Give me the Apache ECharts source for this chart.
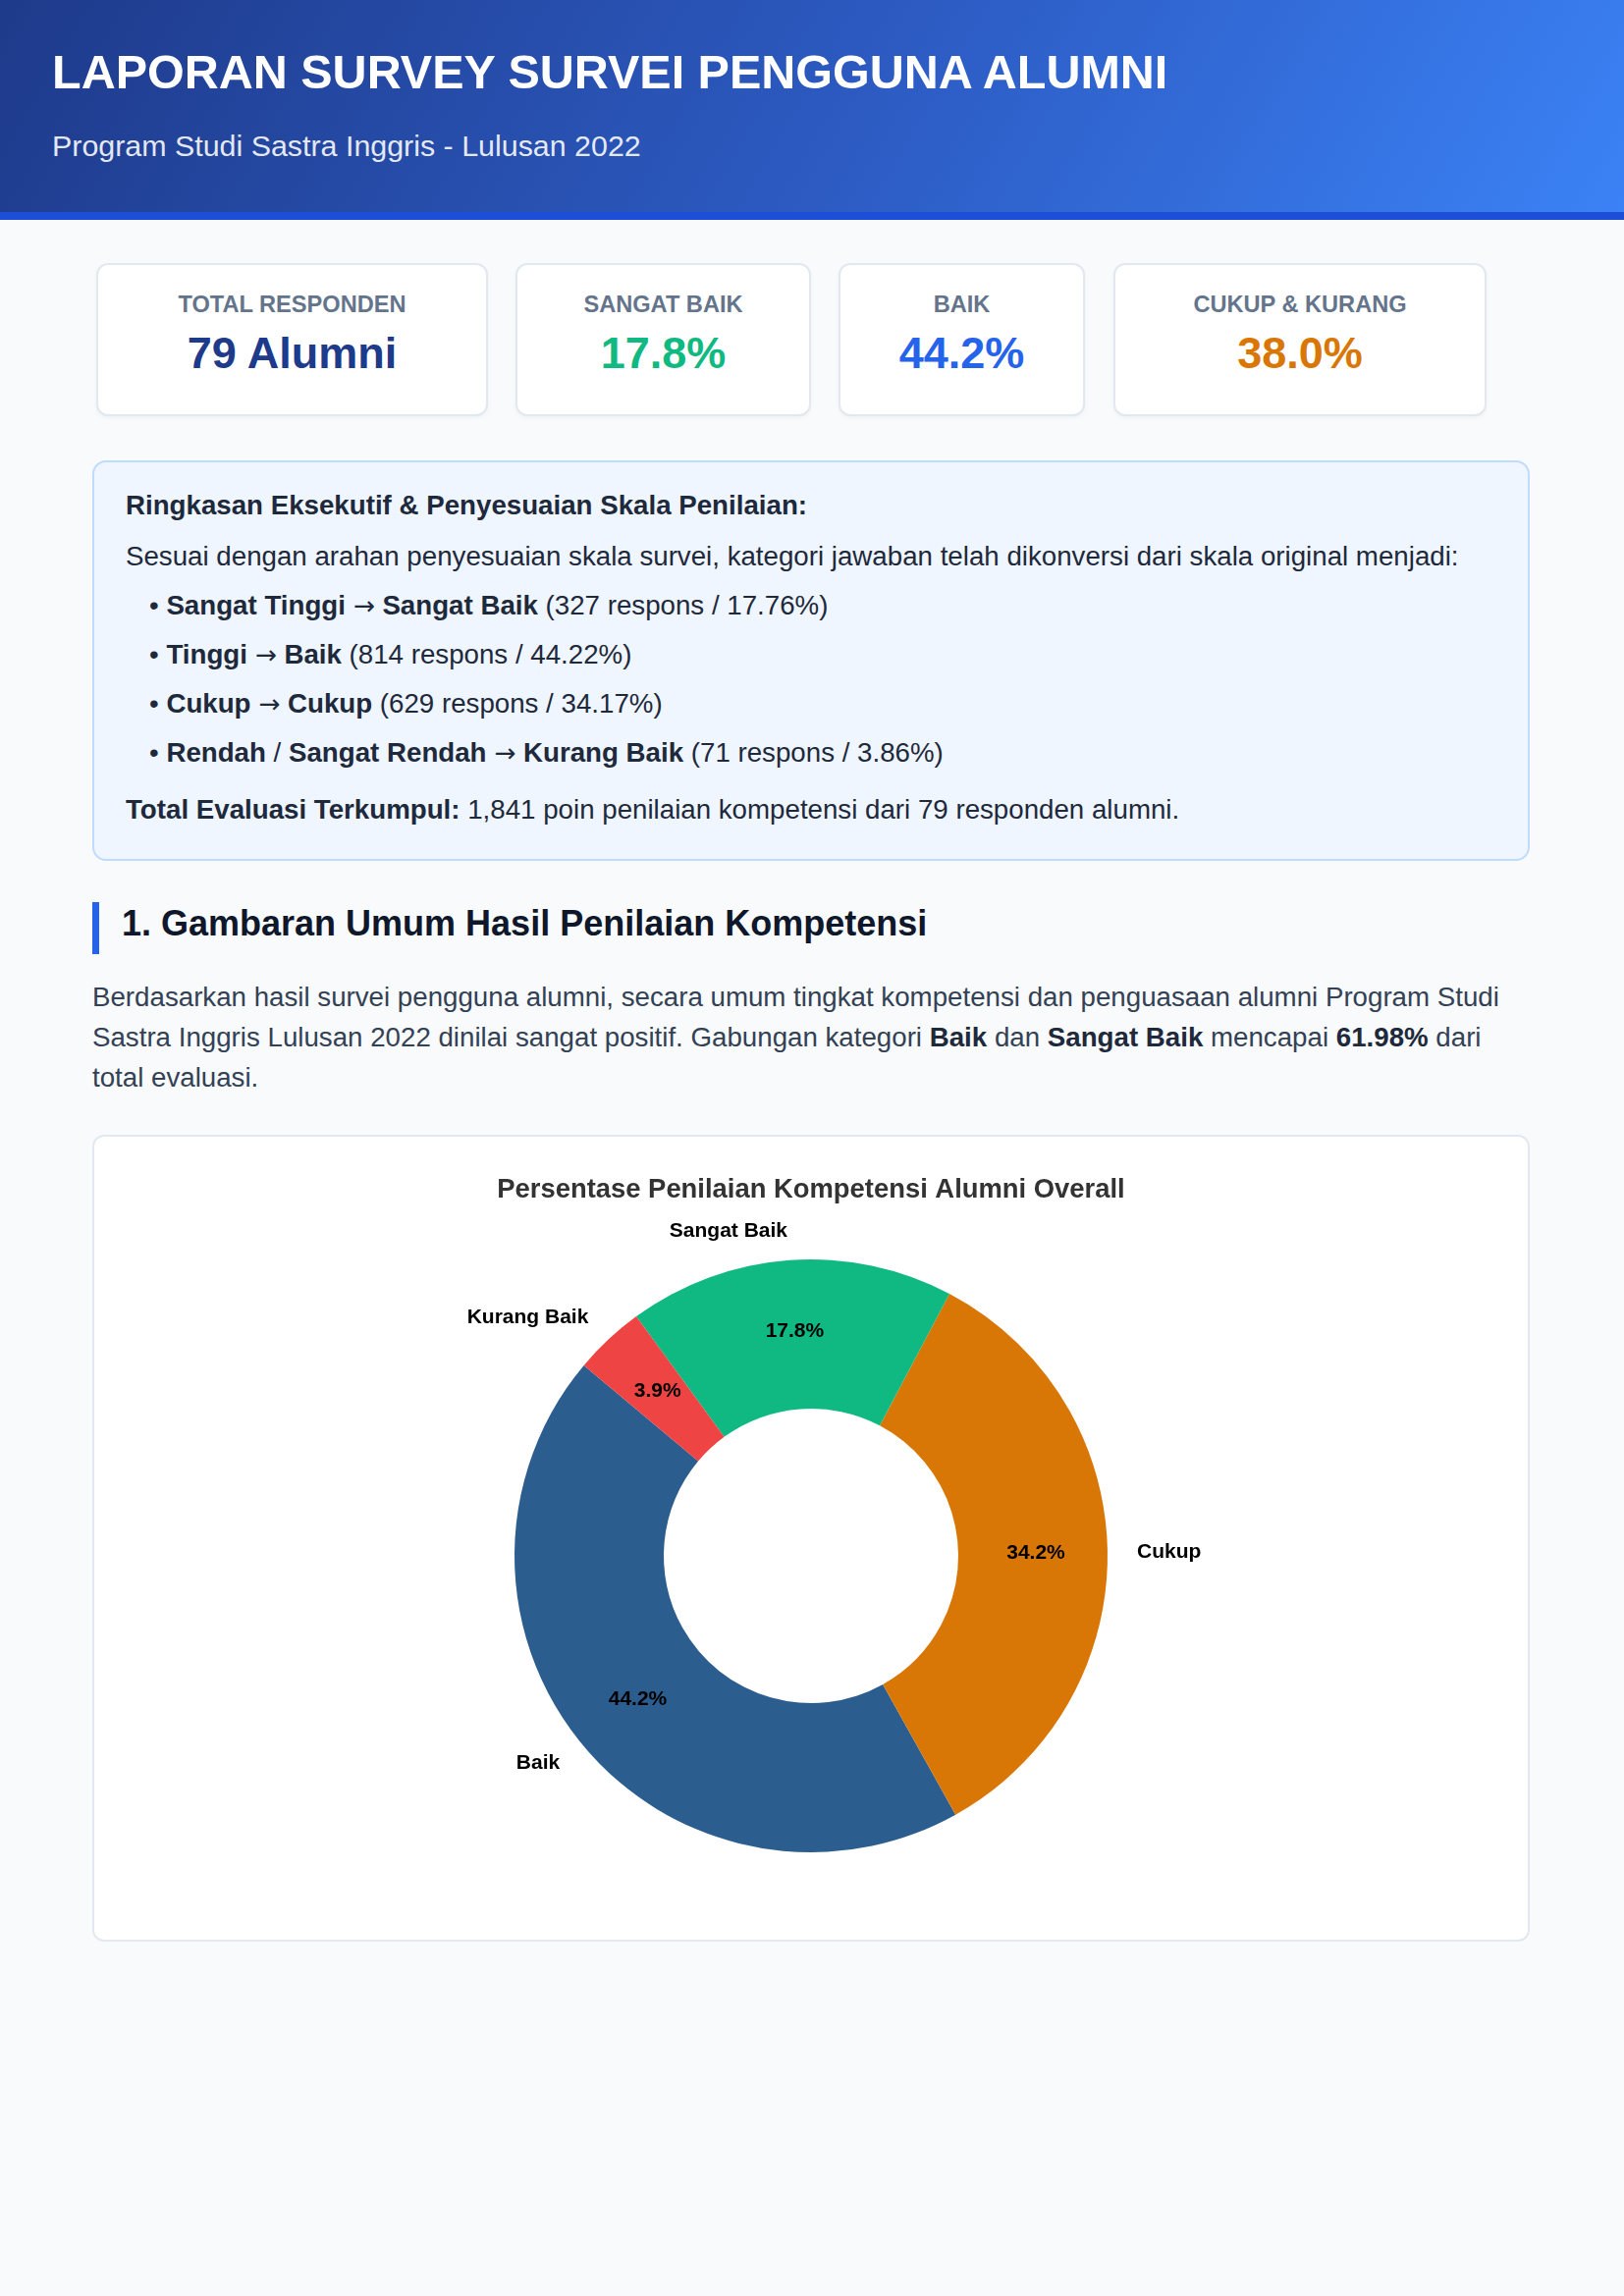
<!DOCTYPE html>
<html>
<head>
<meta charset="UTF-8">
<title>Laporan Survey Pengguna Alumni</title>
<script src="https://cdn.jsdelivr.net/npm/echarts@6/dist/echarts.min.js"></script>
<style>
    html, body { margin: 0; padding: 0; }
    body {
        width: 1654px; height: 2339px; background: #f8fafc;
        font-family: "Liberation Sans", Arial, Helvetica, sans-serif; color: #1e293b;
        position: relative; overflow: hidden;
    }
    .header {
        position: relative; height: 216px; border-bottom: 8px solid #1d4ed8;
        background: linear-gradient(120deg, #1e3a8a 0%, #2d5cc4 55%, #3b82f6 100%);
    }
    .header h1 {
        position: absolute; left: 53px; top: 49px; margin: 0;
        font-size: 48.5px; line-height: 48px; font-weight: bold; color: #fff;
    }
    .header .sub {
        position: absolute; left: 53px; top: 133px;
        font-size: 30.4px; line-height: 30px; color: rgba(255,255,255,0.9);
    }
    .cards { position: absolute; top: 268px; left: 98px; height: 156px; }
    .card {
        position: absolute; top: 0; height: 156px; box-sizing: border-box;
        background: #fff; border: 2px solid #e2e8f0; border-radius: 12px;
        text-align: center; padding-top: 29px;
        box-shadow: 0 2px 4px rgba(15,23,42,0.04);
    }
    .card .lbl { font-size: 23.6px; line-height: 23px; font-weight: bold; color: #64748b; }
    .card .val { font-size: 45px; line-height: 45px; font-weight: bold; margin-top: 15px; }
    .summary {
        position: absolute; left: 94px; top: 469px; width: 1464px; height: 408px; box-sizing: border-box;
        background: #eff6ff; border: 2px solid #bfdbfe; border-radius: 14px;
        padding: 19px 32px 0 32px; font-size: 27.7px; color: #1e293b;
    }
    .summary div { line-height: 50px; height: 50px; }
    .summary b { color: #1e293b; }
    .summary .bl { padding-left: 24px; }
    .arr { font-family: "DejaVu Sans", sans-serif; font-weight: normal; font-size: 0.95em; }
    .sec {
        position: absolute; left: 94px; top: 919px; height: 53px; box-sizing: border-box;
        border-left: 7px solid #2563eb; padding-left: 23px;
        font-size: 36px; line-height: 44px; font-weight: bold; color: #0f172a;
    }
    .para {
        position: absolute; left: 94px; top: 995px; width: 1470px;
        font-size: 27.7px; line-height: 41px; color: #334155;
    }
    .para b { color: #1e293b; }
    .chartcard {
        position: absolute; left: 94px; top: 1156px; width: 1464px; height: 822px; box-sizing: border-box;
        background: #fff; border: 2px solid #e2e8f0; border-radius: 12px;
    }
    #main { position: absolute; left: 0; top: 0; width: 1460px; height: 818px; }
</style>
</head>
<body>
<div class="header">
    <h1>LAPORAN SURVEY SURVEI PENGGUNA ALUMNI</h1>
    <div class="sub">Program Studi Sastra Inggris - Lulusan 2022</div>
</div>

<div class="cards">
    <div class="card" style="left:0;width:399px;"><div class="lbl">TOTAL RESPONDEN</div><div class="val" style="color:#1e3a8a;">79 Alumni</div></div>
    <div class="card" style="left:427px;width:301px;"><div class="lbl">SANGAT BAIK</div><div class="val" style="color:#10b981;">17.8%</div></div>
    <div class="card" style="left:756px;width:251px;"><div class="lbl">BAIK</div><div class="val" style="color:#2563eb;">44.2%</div></div>
    <div class="card" style="left:1036px;width:380px;"><div class="lbl">CUKUP &amp; KURANG</div><div class="val" style="color:#d97706;">38.0%</div></div>
</div>

<div class="summary">
    <div><b>Ringkasan Eksekutif &amp; Penyesuaian Skala Penilaian:</b></div>
    <div style="margin-top:2px;">Sesuai dengan arahan penyesuaian skala survei, kategori jawaban telah dikonversi dari skala original menjadi:</div>
    <div class="bl" style="margin-top:0px;">• <b>Sangat Tinggi</b> <span class="arr">→</span> <b>Sangat Baik</b> (327 respons / 17.76%)</div>
    <div class="bl">• <b>Tinggi</b> <span class="arr">→</span> <b>Baik</b> (814 respons / 44.22%)</div>
    <div class="bl">• <b>Cukup</b> <span class="arr">→</span> <b>Cukup</b> (629 respons / 34.17%)</div>
    <div class="bl">• <b>Rendah</b> / <b>Sangat Rendah</b> <span class="arr">→</span> <b>Kurang Baik</b> (71 respons / 3.86%)</div>
    <div style="margin-top:8px;"><b>Total Evaluasi Terkumpul:</b> 1,841 poin penilaian kompetensi dari 79 responden alumni.</div>
</div>

<div class="sec">1. Gambaran Umum Hasil Penilaian Kompetensi</div>

<div class="para">Berdasarkan hasil survei pengguna alumni, secara umum tingkat kompetensi dan penguasaan alumni Program Studi Sastra Inggris Lulusan 2022 dinilai sangat positif. Gabungan kategori <b>Baik</b> dan <b>Sangat Baik</b> mencapai <b>61.98%</b> dari total evaluasi.</div>

<div class="chartcard"><div id="main"></div></div>

<script type="text/javascript">
    // data penilaian (jumlah respons per kategori)
    var categories = ['Baik', 'Cukup', 'Sangat Baik', 'Kurang Baik'];
    var responses = [814, 629, 327, 71];
    var palette = ['#2c5d8f', '#d97706', '#10b981', '#ef4444'];

    var pieData = [];
    for (var i = 0; i < categories.length; i++) {
        pieData.push({ name: categories[i], value: responses[i], itemStyle: { color: palette[i] } });
    }

    var myChart = echarts.init(document.getElementById('main'));

    var option = {
        animation: false,
        textStyle: { fontFamily: 'Liberation Sans' },
        title: {
            text: 'Persentase Penilaian Kompetensi Alumni Overall',
            left: 'center',
            top: 41,
            padding: 0,
            textStyle: { fontSize: 27.4, fontWeight: 'bold', color: '#333333', fontFamily: 'Liberation Sans' }
        },
        series: [{
            // cincin + persentase di dalam
            name: 'persen',
            type: 'pie',
            center: ['50%', 427],
            radius: [150, 302],
            startAngle: 140,
            clockwise: false,
            avoidLabelOverlap: false,
            silent: true,
            label: {
                show: true,
                position: 'inside',
                formatter: function (p) { return p.percent.toFixed(1) + '%'; },
                fontSize: 21,
                fontWeight: 'bold',
                color: '#000',
                textBorderWidth: 0,
                fontFamily: 'Liberation Sans'
            },
            labelLine: { show: false },
            emphasis: { disabled: true },
            data: pieData
        }, {
            // nama kategori di luar
            name: 'nama',
            type: 'pie',
            center: ['50%', 427],
            radius: [150, 302],
            startAngle: 140,
            clockwise: false,
            avoidLabelOverlap: false,
            silent: true,
            itemStyle: { color: 'rgba(0,0,0,0)' },
            label: {
                show: true,
                position: 'outside',
                formatter: '{b}',
                fontSize: 21,
                fontWeight: 'bold',
                color: '#000',
                distanceToLabelLine: 0,
                fontFamily: 'Liberation Sans'
            },
            labelLine: { show: false, length: 30, length2: 0 },
            emphasis: { disabled: true },
            data: categories.map(function (c, i) { return { name: c, value: responses[i], itemStyle: { color: 'rgba(0,0,0,0)' } }; })
        }]
    };
    myChart.setOption(option);
</script>
</body>
</html>
